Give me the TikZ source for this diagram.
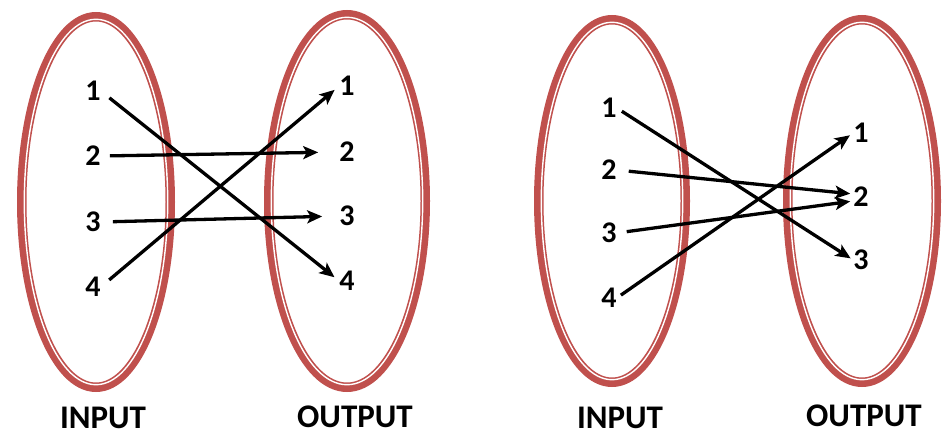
\documentclass[tikz,border=0pt]{standalone}
\usepackage{fontspec}
\setmainfont{Carlito}
\usepackage{tikz}
\usetikzlibrary{positioning,arrows.meta,calc}
\definecolor{setred}{HTML}{C0504D}

\tikzset{
  numlabel/.style={font=\fontsize{30}{32}\selectfont\bfseries, inner sep=0pt},
  caption/.style={font=\fontsize{33}{35}\selectfont\bfseries, inner sep=0pt},
  maparrow/.style={-{Stealth[length=15pt, width=13pt, inset=3.5pt]}, line width=3.3pt, black}
}

\begin{document}
\begin{tikzpicture}[x=1pt, y=-1pt]
        \useasboundingbox (0,0) rectangle (943,436);

        % Sets (double red rings)
        \foreach \cx/\cy/\rx/\ry in {96/202/79/190, 347/201/83/191, 612/201/78/186, 862/201/79/186} {
          \draw[setred, line width=9.5pt] (\cx,\cy) ellipse [x radius=\rx-4.75, y radius=\ry-4.75];
          \draw[white, line width=1.4pt] (\cx,\cy) ellipse [x radius=\rx-7.3, y radius=\ry-7.3];
        }

        % Left mapping: elements
        \foreach \n/\y in {1/91, 2/156, 3/222, 4/287}
          \node[numlabel] (a\n) at (93,\y) {\n};
        \foreach \n/\y in {1/86, 2/152, 3/216, 4/281}
          \node[numlabel] (b\n) at (347,\y) {\n};

        % Left mapping: arrows
        \draw[maparrow, shorten <=11pt, shorten >=6pt] (a1.east) -- (b4.west);
        \draw[maparrow, shorten <=9pt, shorten >=21pt] (a2.east) -- (b2.west);
        \draw[maparrow, shorten <=12pt, shorten >=17pt] (a3.east) -- (b3.west);
        \draw[maparrow, shorten <=11pt, shorten >=6pt] (a4.east) -- (b1.west);

        % Right mapping: elements
        \foreach \n/\y in {1/108, 2/170, 3/233, 4/298}
          \node[numlabel] (c\n) at (609,\y) {\n};
        \foreach \n/\y in {1/133, 2/197, 3/260}
          \node[numlabel] (d\n) at (861,\y) {\n};

        % Right mapping: arrows
        \draw[maparrow, shorten <=6pt, shorten >=3pt] (c1.east) -- (d3.west);
        \draw[maparrow, shorten <=12pt, shorten >=3pt] (c2.east) -- ([yshift=3pt]d2.west);
        \draw[maparrow, shorten <=10pt, shorten >=3pt] (c3.east) -- ([yshift=-4pt]d2.west);
        \draw[maparrow, shorten <=5pt, shorten >=4pt] (c4.east) -- (d1.west);

        % Captions
        \node[caption] (in1) at (103,418) {INPUT};
        \node[caption] (out1) at (355,417) {OUTPUT};
        \node[caption] (in2) at (620,418) {INPUT};
        \node[caption] (out2) at (864,416) {OUTPUT};
      \end{tikzpicture}
\end{document}
